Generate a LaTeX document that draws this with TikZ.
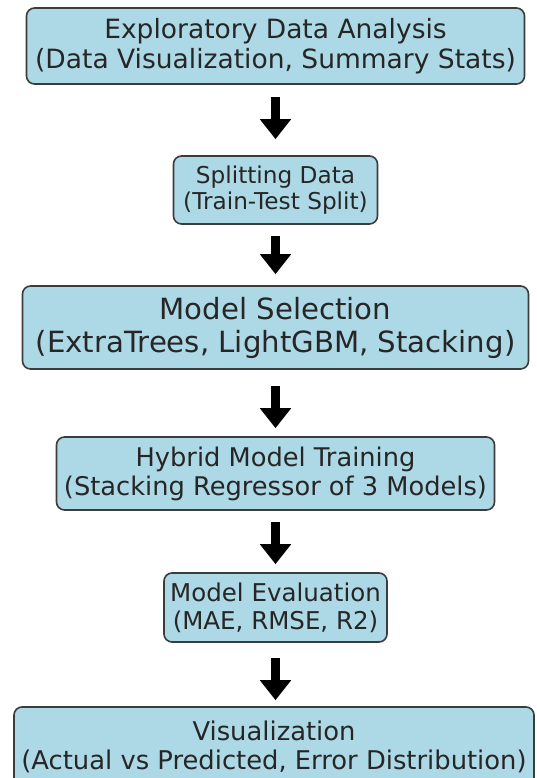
\documentclass[tikz,border=0pt]{standalone}
\usepackage{fontspec}
\setmainfont{DejaVu Sans}
\usetikzlibrary{arrows.meta}
\definecolor{boxfill}{HTML}{ADD8E6}
\definecolor{boxedge}{HTML}{3C3C3C}
\definecolor{boxtext}{HTML}{262626}

\tikzset{
  stage/.style={draw=boxedge, line width=1.6pt, fill=boxfill,
    rounded corners=8pt, align=center, inner sep=0pt, text=boxtext},
  flow/.style={draw=black, line width=9pt,
    -{Triangle[width=30pt,length=20pt]}}
}

\begin{document}
\begin{tikzpicture}[x=1pt, y=-1pt]
  \useasboundingbox (0,0) rectangle (536,778);

  % pipeline stages, top to bottom
  \node[stage, minimum width=498pt, minimum height=76pt,
        font=\fontsize{26.5}{30}\selectfont] (eda) at (275.5,46)
        {Exploratory Data Analysis\\(Data Visualization, Summary Stats)};
  \node[stage, minimum width=204pt, minimum height=68pt,
        font=\fontsize{23.2}{26.2}\selectfont] (split) at (275.5,190)
        {Splitting Data\\(Train-Test Split)};
  \node[stage, minimum width=506pt, minimum height=83pt,
        font=\fontsize{29.2}{33}\selectfont] (select) at (275.5,327.5)
        {Model Selection\\(ExtraTrees, LightGBM, Stacking)};
  \node[stage, minimum width=438pt, minimum height=73pt,
        font=\fontsize{25.7}{29}\selectfont] (train) at (275.5,473.5)
        {Hybrid Model Training\\(Stacking Regressor of 3 Models)};
  \node[stage, minimum width=223pt, minimum height=69pt,
        font=\fontsize{24.5}{27.7}\selectfont] (eval) at (275.5,607.5)
        {Model Evaluation\\(MAE, RMSE, R2)};
  \node[stage, minimum width=520pt, minimum height=80pt,
        font=\fontsize{25.8}{29.2}\selectfont] (vis) at (274,747)
        {Visualization\\(Actual vs Predicted, Error Distribution)};

  % block arrows between consecutive stages
  \draw[flow, shorten <=12pt, shorten >=16pt] (eda.south) -- (eda.south |- split.north);
  \draw[flow, shorten <=11pt, shorten >=11pt] (split.south) -- (split.south |- select.north);
  \draw[flow, shorten <=16pt, shorten >=8pt] (select.south) -- (select.south |- train.north);
  \draw[flow, shorten <=11pt, shorten >=8pt] (train.south) -- (train.south |- eval.north);
  \draw[flow, shorten <=15pt, shorten >=6pt] (eval.south) -- (eval.south |- vis.north);
\end{tikzpicture}
\end{document}
